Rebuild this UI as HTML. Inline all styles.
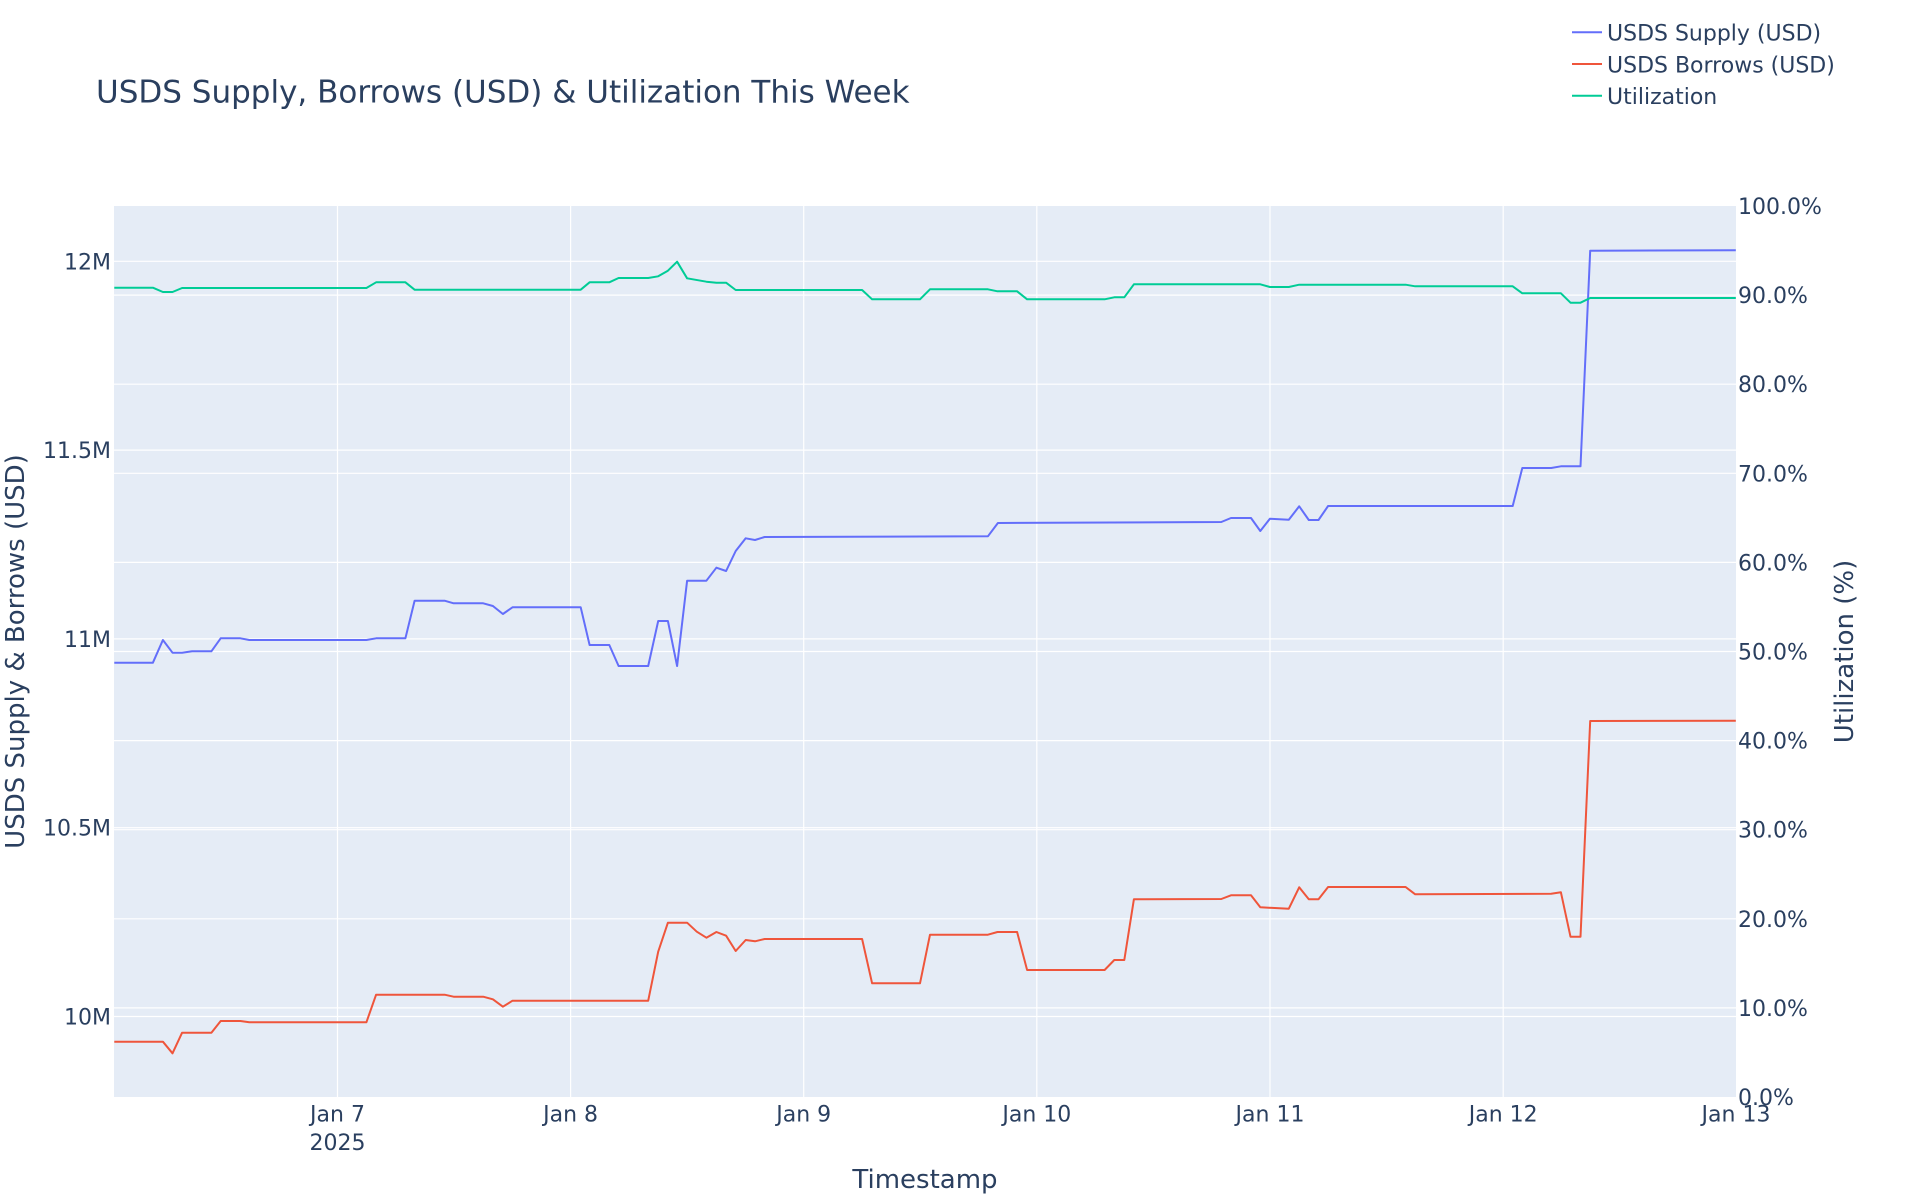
<!DOCTYPE html>
<html><head><meta charset="utf-8"><style>
html,body{margin:0;padding:0;background:#fff;}
svg{display:block;font-family:"DejaVu Sans","Liberation Sans",sans-serif;}
</style></head><body>
<svg width="1920" height="1200" viewBox="0 0 1920 1200" xmlns="http://www.w3.org/2000/svg">
<rect x="0" y="0" width="1920" height="1200" fill="#fff"/>
<rect x="114" y="206" width="1622" height="891" fill="#E5ECF6"/>
<g stroke="#fff" stroke-width="1.2" fill="none">
<line x1="337.5" y1="206" x2="337.5" y2="1097"/>
<line x1="570.6" y1="206" x2="570.6" y2="1097"/>
<line x1="803.7" y1="206" x2="803.7" y2="1097"/>
<line x1="1036.8" y1="206" x2="1036.8" y2="1097"/>
<line x1="1270" y1="206" x2="1270" y2="1097"/>
<line x1="1503.2" y1="206" x2="1503.2" y2="1097"/>
<line x1="114" y1="261.3" x2="1736" y2="261.3"/>
<line x1="114" y1="450.1" x2="1736" y2="450.1"/>
<line x1="114" y1="638.9" x2="1736" y2="638.9"/>
<line x1="114" y1="827.7" x2="1736" y2="827.7"/>
<line x1="114" y1="1016.5" x2="1736" y2="1016.5"/>
<line x1="114" y1="295.1" x2="1736" y2="295.1"/>
<line x1="114" y1="384.2" x2="1736" y2="384.2"/>
<line x1="114" y1="473.3" x2="1736" y2="473.3"/>
<line x1="114" y1="562.4" x2="1736" y2="562.4"/>
<line x1="114" y1="651.5" x2="1736" y2="651.5"/>
<line x1="114" y1="740.6" x2="1736" y2="740.6"/>
<line x1="114" y1="829.7" x2="1736" y2="829.7"/>
<line x1="114" y1="918.8" x2="1736" y2="918.8"/>
<line x1="114" y1="1007.9" x2="1736" y2="1007.9"/>
</g>
<defs><clipPath id="c"><rect x="114" y="206" width="1622" height="891"/></clipPath></defs>
<g clip-path="url(#c)" fill="none" stroke-width="2" stroke-linejoin="round">
<polyline stroke="#636EFA" points="114.3,662.7 152.9,662.7 162.9,640 172.5,652.7 182.1,652.7 192.1,651.3 211.4,651.3 220.7,638.3 240.4,638.3 249.3,640 366.4,640 376.1,638.3 405.4,638.3 414.6,600.7 444.6,600.7 453.6,603.3 483.2,603.3 492.9,606 502.9,614 512.5,607.3 580.7,607.3 589.6,645 609.3,645 618.6,666 648.2,666 658.2,621 667.9,621 677.1,666 687.1,580.7 706.4,580.7 716.4,567.7 726.1,571 735.7,551 745.7,538.3 755,540 764.6,537 987.9,536.3 997.9,523 1221.3,522 1231,518 1251,518 1260.3,531 1269.9,518.7 1288.8,519.7 1299.2,506.3 1308.8,520 1318.5,520 1328.1,506 1512.7,506 1522.3,468 1551.2,468 1560.9,466.3 1580.5,466.3 1590.2,250.7 1735.8,250.3"/>
<polyline stroke="#EF553B" points="114.3,1041.7 162.9,1041.7 172.5,1053.3 182.1,1032.7 211.4,1032.7 220.7,1021 240.4,1021 249.3,1022.3 366.4,1022.3 376.1,994.7 444.6,994.7 453.6,996.7 483.2,996.7 492.9,999.3 502.9,1006.7 512.5,1000.7 648.2,1000.7 658.2,951.7 667.9,922.7 687.1,922.7 696.8,931.7 706.4,937.7 716.4,932 726.1,935.7 735.7,951 745.7,940 755,941.3 764.6,939 862.1,939 872.1,983.3 920,983.3 930,934.7 987.9,934.7 997.5,932 1017.1,932 1027.1,970 1104.6,970 1114.3,960 1124.3,960 1133.9,899.3 1221.3,899 1231,895.3 1251,895.3 1260.3,907.3 1288.8,908.7 1299.2,887.3 1308.8,899.3 1318.5,899.3 1328.1,887 1405.6,887 1415.2,894.3 1551.2,893.7 1560.9,892.3 1570.5,936.7 1580.5,936.7 1590.2,721 1735.8,720.7"/>
<polyline stroke="#00CC96" points="114.3,287.7 152.9,287.7 162.9,292 172.5,292 182.1,288 366.4,288 376.1,282.3 405.4,282.3 414.6,289.7 580.7,289.7 589.6,282.3 609.3,282.3 618.6,278 648.2,278 658.2,276.3 667.9,270.7 677.1,261.7 687.1,278.3 706.4,281.7 716.4,282.7 726.1,282.7 735.7,290 862.1,290 872.1,299.3 920,299.3 930,289.3 987.9,289.3 997.5,291.3 1017.1,291.3 1027.1,299.3 1104.6,299.3 1114.3,297.3 1124.3,297.3 1133.9,284.3 1260.3,284.3 1269.9,287 1288.8,287 1299.2,284.7 1405.6,284.7 1415.2,286.3 1512.7,286.3 1522.3,293.3 1560.9,293.3 1570.5,302.7 1580.5,302.7 1590.2,298 1735.8,298"/>
</g>
<g fill="#2a3f5f" font-size="22">
<text x="111" y="269.3" text-anchor="end">12M</text>
<text x="111" y="458.1" text-anchor="end">11.5M</text>
<text x="111" y="646.9" text-anchor="end">11M</text>
<text x="111" y="835.7" text-anchor="end">10.5M</text>
<text x="111" y="1024.5" text-anchor="end">10M</text>
<text x="1738" y="214">100.0%</text>
<text x="1738" y="303.1">90.0%</text>
<text x="1738" y="392.2">80.0%</text>
<text x="1738" y="481.3">70.0%</text>
<text x="1738" y="570.4">60.0%</text>
<text x="1738" y="659.5">50.0%</text>
<text x="1738" y="748.6">40.0%</text>
<text x="1738" y="837.7">30.0%</text>
<text x="1738" y="926.8">20.0%</text>
<text x="1738" y="1015.9">10.0%</text>
<text x="1738" y="1105">0.0%</text>
<text x="337.5" y="1121.5" text-anchor="middle">Jan 7</text>
<text x="337.5" y="1150" text-anchor="middle">2025</text>
<text x="570.6" y="1121.5" text-anchor="middle">Jan 8</text>
<text x="803.7" y="1121.5" text-anchor="middle">Jan 9</text>
<text x="1036.8" y="1121.5" text-anchor="middle">Jan 10</text>
<text x="1270" y="1121.5" text-anchor="middle">Jan 11</text>
<text x="1503.2" y="1121.5" text-anchor="middle">Jan 12</text>
<text x="1736" y="1121.5" text-anchor="middle">Jan 13</text>
</g>
<g fill="#2a3f5f" font-size="26">
<text x="925" y="1188" text-anchor="middle">Timestamp</text>
<text transform="translate(24,651.5) rotate(-90)" text-anchor="middle">USDS Supply &amp; Borrows (USD)</text>
<text transform="translate(1853,651.5) rotate(-90)" text-anchor="middle">Utilization (%)</text>
</g>
<text x="96" y="102.5" fill="#2a3f5f" font-size="31">USDS Supply, Borrows (USD) &amp; Utilization This Week</text>
<g font-size="22" fill="#2a3f5f">
<line x1="1572" y1="32.3" x2="1602" y2="32.3" stroke="#636EFA" stroke-width="2"/>
<text x="1607" y="40.6">USDS Supply (USD)</text>
<line x1="1572" y1="64" x2="1602" y2="64" stroke="#EF553B" stroke-width="2"/>
<text x="1607" y="72.3">USDS Borrows (USD)</text>
<line x1="1572" y1="95.7" x2="1602" y2="95.7" stroke="#00CC96" stroke-width="2"/>
<text x="1607" y="104">Utilization</text>
</g>
</svg>
</body></html>
